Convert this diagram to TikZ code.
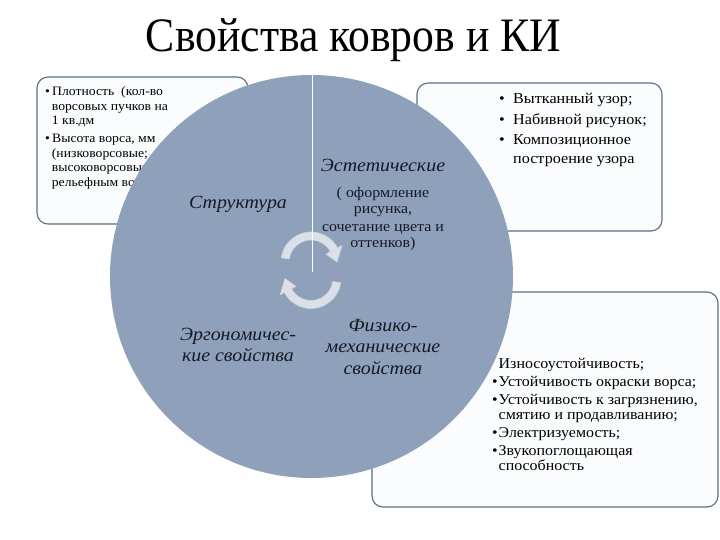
\documentclass[tikz,border=0pt]{standalone}
\usepackage{fontspec}
\setmainfont{Liberation Serif}[FakeStretch=1.07]
\newfontfamily\titlefont{Liberation Serif}[FakeStretch=0.91]
\definecolor{disccol}{HTML}{8FA0BB}
\definecolor{boxline}{HTML}{5A6E86}
\definecolor{boxfill}{HTML}{FAFCFE}
\definecolor{inktext}{HTML}{141A26}
\newcommand\mlines[2]{\begin{tabular}[t]{@{}#1@{}}#2\end{tabular}}
\newcommand\bul{\makebox[7pt][l]{\textbullet}}
\begin{document}
\begin{tikzpicture}[x=1pt,y=1pt,
  boxframe/.style={draw=boxline, line width=1.1pt, fill=boxfill, rounded corners=11pt},
  boxtxt/.style={anchor=base west, inner sep=0pt, text=black},
  circtxt/.style={anchor=base, inner sep=0pt, text=inktext, font=\fontsize{18.6}{21.5}\selectfont\itshape},
  circreg/.style={anchor=base, inner sep=0pt, text=inktext, font=\fontsize{14.9}{17}\selectfont},
  arrowband/.style={fill=white, fill opacity=0.68, draw=gray!35, line width=0.6pt},
  cyc/.pic={\filldraw[arrowband] (172:30) arc (172:28:30) -- (28:35) -- (0:26) -- (28:17) -- (28:22) arc (28:172:22) -- cycle;}
]
\useasboundingbox (0,0) rectangle (720,-540);
\fill[white] (0,0) rectangle (720,-540);

% title
\node[anchor=base, inner sep=0pt, font=\titlefont\fontsize{48}{54}\selectfont] (title) at (353.5,-52) {Свойства ковров и КИ};

% boxes
\draw[boxframe] (37,-77) rectangle (248,-224);
\draw[boxframe] (417,-83) rectangle (662,-231);
\draw[boxframe] (372,-292) rectangle (718,-507);

\node[boxtxt, font=\fontsize{12.8}{14.5}\selectfont] (tl) at (45,-95.7) {\mlines{l}{%
\bul Плотность\ \ (кол-во\\
\hspace{6.7pt}ворсовых пучков на\\
\hspace{6.7pt}1 кв.дм\\[3.8pt]
\bul Высота ворса, мм\\
\hspace{6.7pt}(низковорсовые;\\
\hspace{6.7pt}высоковорсовые\\
\hspace{6.7pt}рельефным ворсом)}};

\node[boxtxt, font=\fontsize{15.1}{18.5}\selectfont] (tr) at (499,-104) {\mlines{l}{%
\makebox[14pt][l]{\textbullet}Вытканный узор;\\[2pt]
\makebox[14pt][l]{\textbullet}Набивной рисунок;\\[2pt]
\makebox[14pt][l]{\textbullet}Композиционное\\
\hspace{14pt}построение узора}};

\node[boxtxt, font=\fontsize{14.9}{14.5}\selectfont] (br) at (492,-368.3) {\mlines{l}{%
\hspace{6.5pt}Износоустойчивость;\\[3.8pt]
\makebox[6.5pt][l]{\textbullet}Устойчивость окраски ворса;\\[3.5pt]
\makebox[6.5pt][l]{\textbullet}Устойчивость к загрязнению,\\
\hspace{6.5pt}смятию и продавливанию;\\[3.5pt]
\makebox[6.5pt][l]{\textbullet}Электризуемость;\\[3.5pt]
\makebox[6.5pt][l]{\textbullet}Звукопоглощающая\\
\hspace{6.5pt}способность}};

% disc
\node[circle, fill=disccol, minimum size=403pt, inner sep=0pt] (disc) at (311.5,-276.5) {};
\coordinate (vtop) at (312,-75);
\coordinate (vbot) at (312,-272);
\draw[white, line width=0.9pt] (vtop) -- (vbot);

\pic (arrowup) at (311,-262) {cyc};
\pic[rotate=180] (arrowdn) at (311,-278.5) {cyc};

\node[circtxt] (struct) at (238,-209) {Структура};
\node[circtxt] (estet) at (383,-171.5) {Эстетические};
\node[circreg] (estetd) at (383,-197) {\mlines{c}{( оформление\\рисунка,\\сочетание цвета и\\оттенков)}};
\node[circtxt] (ergo) at (238,-340) {\mlines{c}{Эргономичес-\\кие свойства}};
\node[circtxt] (fiz) at (383,-331) {\mlines{c}{Физико-\\механические\\свойства}};
\end{tikzpicture}
\end{document}
